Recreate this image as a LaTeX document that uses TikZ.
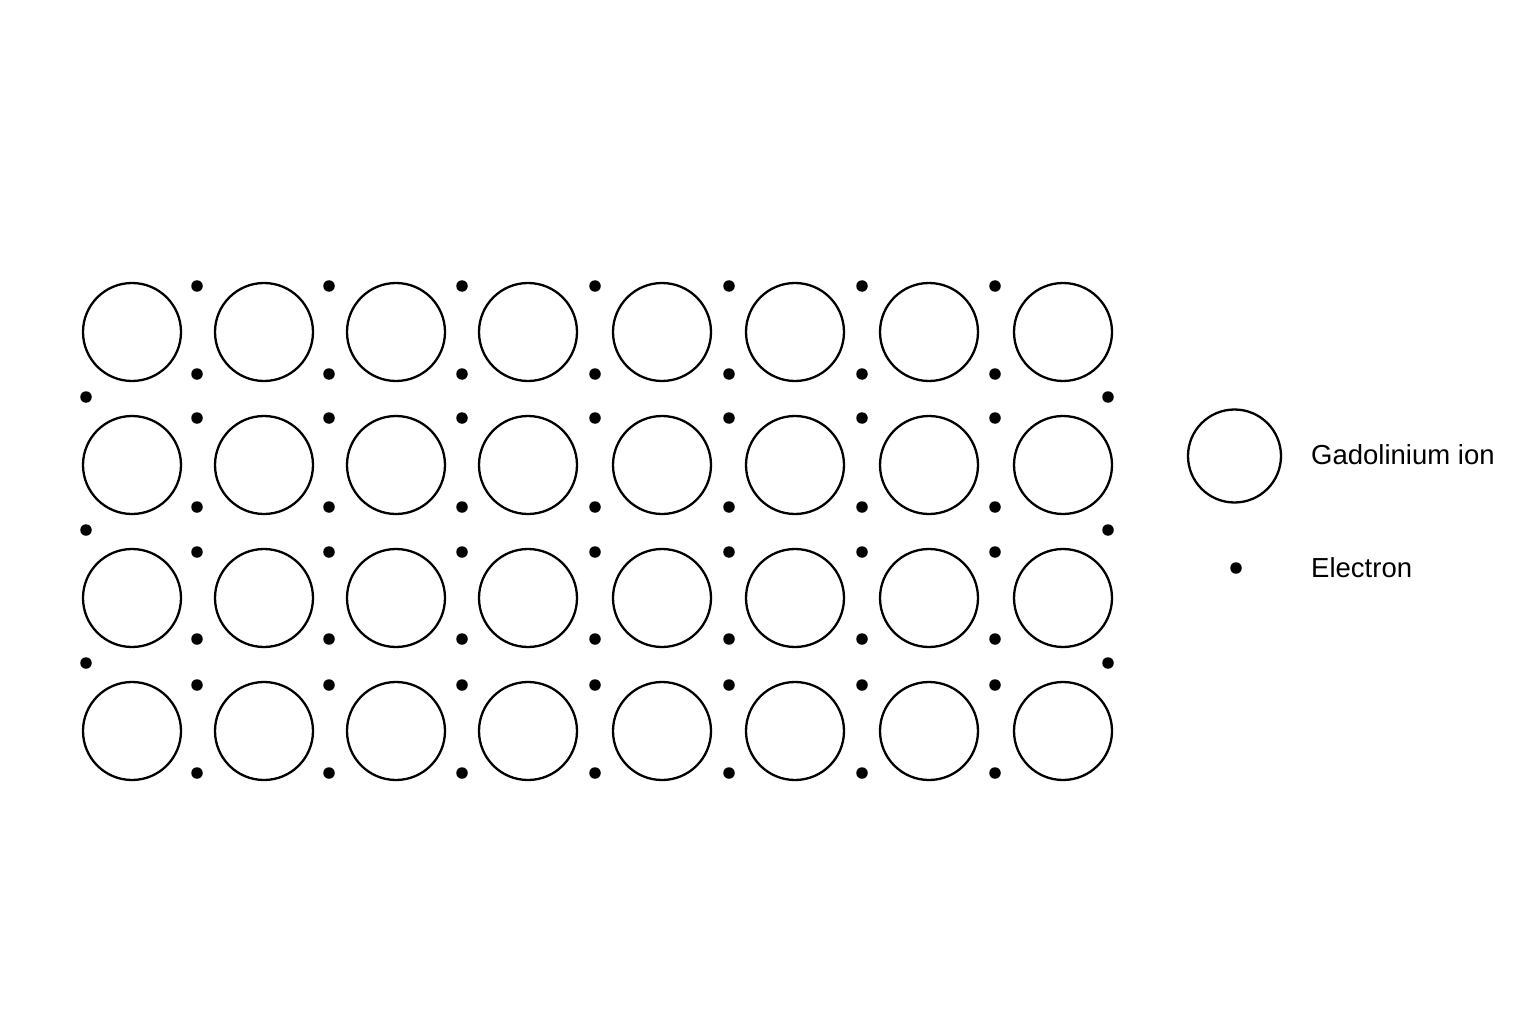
\documentclass[tikz,border=0pt]{standalone}
\usepackage{fontspec}
\setmainfont{Liberation Sans}
\begin{document}
\begin{tikzpicture}[x=1pt,y=-1pt,
  ion/.style={circle,draw=black,line width=2.3pt,minimum size=98pt,inner sep=0pt},
  legion/.style={circle,draw=black,line width=2.3pt,minimum size=93pt,inner sep=0pt},
  electron/.style={circle,fill=black,minimum size=11.5pt,inner sep=0pt},
  lbl/.style={anchor=west,font=\fontsize{27.5}{32}\selectfont,inner sep=0pt}]
\useasboundingbox (0,0) rectangle (1536,1024);
\fill[white] (0,0) rectangle (1536,1024);
% ions
\foreach \y [count=\r] in {332,465,598,731}{
  \foreach \x [count=\c] in {132,264,396,528,662,795,929,1063}{
    \node[ion] (ion-\r-\c) at (\x,\y) {};
  }
}
% electrons between columns
\foreach \y [count=\k] in {286,374,418,507,552,639,685,773}{
  \foreach \x [count=\c] in {197,329,462,595,729,862,995}{
    \node[electron] (e-\k-\c) at (\x,\y) {};
  }
}
% side electrons
\foreach \y [count=\k] in {397,530,663}{
  \node[electron] (el-\k) at (86,\y) {};
  \node[electron] (er-\k) at (1108,\y) {};
}
% legend
\node[legion] (legion) at (1234.5,456) {};
\node[lbl] (legiontext) at (1311,455) {Gadolinium ion};
\node[electron] (legel) at (1236,568) {};
\node[lbl] (legeltext) at (1311,568) {Electron};
\end{tikzpicture}
\end{document}
